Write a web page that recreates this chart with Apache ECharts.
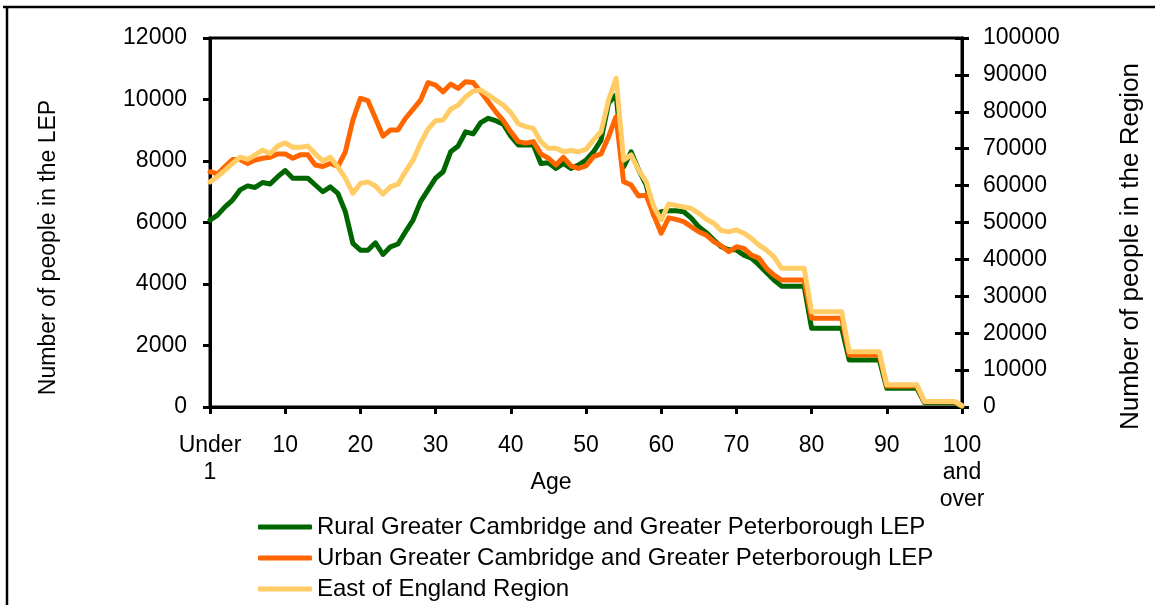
<!DOCTYPE html>
<html>
<head>
<meta charset="utf-8">
<script src="https://cdn.jsdelivr.net/npm/echarts@6/dist/echarts.min.js"></script>
<style>html,body{margin:0;padding:0;background:#fff;}#c{width:1155px;height:605px;}</style>
</head>
<body>
<div id="c"></div>
<script>
// Age categories: Under 1, 1..99, 100 and over
const ages = ['Under 1'];
for (let a = 1; a <= 99; a++) ages.push(String(a));
ages.push('100 and over');

const seriesNames = [
  'Rural Greater Cambridge and Greater Peterborough LEP',
  'Urban Greater Cambridge and Greater Peterborough LEP',
  'East of England Region'
];

// Rural LEP (left axis)
const rural = [
  6080, 6240, 6510, 6730, 7060, 7190, 7140, 7300, 7250, 7490,
  7690, 7440, 7440, 7440, 7220, 7000, 7160, 6950, 6350, 5320,
  5100, 5100, 5340, 4960, 5210, 5300, 5700, 6080, 6680, 7060,
  7440, 7650, 8300, 8490, 8950, 8880, 9250, 9390, 9310, 9200,
  8810, 8520, 8520, 8520, 7920, 7940, 7760, 7920, 7760, 7870,
  8030, 8300, 8680, 9880, 10150, 7810, 8300, 7710, 7220, 6240,
  6350, 6380, 6380, 6350, 6140, 5860, 5670, 5430, 5210, 5110,
  5110, 4940, 4840, 4620, 4370, 4130, 3930, 3930, 3930, 3930,
  2560, 2560, 2560, 2560, 2560, 1530, 1530, 1530, 1530, 1530,
  610, 610, 610, 610, 610, 140, 140, 140, 140, 140,
  20
];

// Urban LEP (left axis)
const urban = [
  7650, 7580, 7820, 8050, 8050, 7920, 8030, 8090, 8120, 8230,
  8230, 8090, 8200, 8200, 7870, 7820, 7920, 7820, 8300, 9330,
  10040, 9960, 9390, 8810, 9010, 9010, 9390, 9680, 9980, 10550,
  10470, 10250, 10500, 10360, 10580, 10550, 10250, 9930, 9600, 9310,
  8950, 8630, 8580, 8630, 8230, 8090, 7870, 8120, 7840, 7760,
  7840, 8140, 8230, 8790, 9440, 7330, 7220, 6860, 6890, 6240,
  5650, 6150, 6100, 6030, 5860, 5700, 5590, 5380, 5240, 5050,
  5210, 5160, 4940, 4840, 4510, 4290, 4130, 4130, 4130, 4130,
  2890, 2890, 2890, 2890, 2890, 1690, 1690, 1690, 1690, 1690,
  680, 680, 680, 680, 680, 170, 170, 170, 170, 170,
  30
];

// East of England Region (right axis)
const region = [
  61000, 62400, 64200, 66000, 67700, 67100, 68300, 69600, 68700, 70700,
  71600, 70400, 70400, 70700, 68600, 66700, 67700, 65100, 62000, 57900,
  60600, 61000, 59900, 57700, 59700, 60400, 63800, 66900, 71500, 75300,
  77600, 77800, 80700, 81800, 84100, 85600, 85900, 84600, 83200, 81800,
  79800, 76700, 76000, 75500, 71900, 70100, 70100, 69200, 69500, 69200,
  69800, 72400, 74600, 83200, 89100, 66900, 68300, 64200, 61100, 54300,
  50700, 55000, 54600, 54200, 53800, 52500, 50900, 49800, 47800, 47500,
  48000, 47100, 45700, 43900, 42500, 40700, 37600, 37600, 37600, 37600,
  25800, 25800, 25800, 25800, 25800, 15000, 15000, 15000, 15000, 15000,
  6000, 6000, 6000, 6000, 6000, 1500, 1500, 1500, 1500, 1500,
  400
];

const leftTicks = { min: 0, max: 12000, interval: 2000 };
const rightTicks = { min: 0, max: 100000, interval: 10000 };

const FONT = 'Liberation Sans, Arial, sans-serif';
const colors = ['#006600', '#FF6600', '#FFCC66'];

const chart = echarts.init(document.getElementById('c'), null, { renderer: 'canvas' });
const axisLineStyle = { color: '#000', width: 3 };
const plain = v => String(v);

chart.setOption({
  animation: false,
  backgroundColor: '#fff',
  color: colors,
  textStyle: { fontFamily: FONT },
  grid: {
    left: 210, right: 193, top: 38, bottom: 198,
    containLabel: false, outerBoundsMode: 'none',
    show: true, borderColor: '#000', borderWidth: 3, backgroundColor: 'transparent'
  },
  legend: {
    orient: 'vertical',
    left: 258, top: 515, height: 90,
    padding: 0,
    itemWidth: 54, itemHeight: 5, itemGap: 7,
    icon: 'roundRect',
    textStyle: { fontSize: 24, color: '#000', fontFamily: FONT },
    data: seriesNames
  },
  xAxis: {
    type: 'category',
    data: ages,
    boundaryGap: false,
    name: 'Age',
    nameLocation: 'middle',
    nameGap: 64,
    nameMoveOverlap: false,
    nameTextStyle: { fontSize: 23, color: '#000', fontFamily: FONT, padding: [0, 70, 0, 0] },
    axisLine: { lineStyle: axisLineStyle },
    axisTick: { show: true, interval: 9, length: 7, lineStyle: { color: '#000', width: 3 } },
    axisLabel: {
      interval: 9, margin: 25, fontSize: 23, color: '#000', fontFamily: FONT,
      lineHeight: 27, showMaxLabel: true, showMinLabel: true,
      formatter: v => v.replace(/ /g, '\n')
    },
    splitLine: { show: false }
  },
  yAxis: [
    {
      type: 'value', position: 'left',
      min: leftTicks.min, max: leftTicks.max, interval: leftTicks.interval,
      name: 'Number of people in the LEP',
      nameLocation: 'middle', nameRotate: 90, nameGap: 150,
      nameMoveOverlap: false,
      nameTextStyle: { fontSize: 23, color: '#000', fontFamily: FONT, padding: [0, 50, 0, 0] },
      axisLine: { show: true, lineStyle: axisLineStyle },
      axisTick: { show: true, length: 7, lineStyle: { color: '#000', width: 3 } },
      axisLabel: { margin: 23, fontSize: 23, color: '#000', fontFamily: FONT, formatter: plain },
      splitLine: { show: false }
    },
    {
      type: 'value', position: 'right',
      min: rightTicks.min, max: rightTicks.max, interval: rightTicks.interval,
      name: 'Number of people in the Region',
      nameLocation: 'middle', nameRotate: 90, nameGap: 156,
      nameMoveOverlap: false,
      nameTextStyle: { fontSize: 26, color: '#000', fontFamily: FONT, padding: [0, 48, 0, 0] },
      axisLine: { show: true, lineStyle: axisLineStyle },
      axisTick: { show: true, length: 7, lineStyle: { color: '#000', width: 3 } },
      axisLabel: { margin: 21, fontSize: 23, color: '#000', fontFamily: FONT, formatter: plain },
      splitLine: { show: false }
    },
    {
      type: 'value', position: 'right',
      min: rightTicks.min, max: rightTicks.max, interval: rightTicks.interval,
      axisLine: { show: false },
      axisTick: { show: true, inside: true, length: 7, lineStyle: { color: '#000', width: 3 } },
      axisLabel: { show: false },
      splitLine: { show: false }
    }
  ],
  series: [
    {
      name: seriesNames[0], type: 'line', yAxisIndex: 0, data: rural,
      showSymbol: false, symbol: 'none',
      lineStyle: { width: 5, color: colors[0], join: 'round', cap: 'round' }
    },
    {
      name: seriesNames[1], type: 'line', yAxisIndex: 0, data: urban,
      showSymbol: false, symbol: 'none',
      lineStyle: { width: 5, color: colors[1], join: 'round', cap: 'round' }
    },
    {
      name: seriesNames[2], type: 'line', yAxisIndex: 1, data: region,
      showSymbol: false, symbol: 'none',
      lineStyle: { width: 5, color: colors[2], join: 'round', cap: 'round' }
    }
  ],
  graphic: [
    { type: 'line', shape: { x1: 3, y1: 7, x2: 1155, y2: 7 }, style: { stroke: '#000', lineWidth: 2.5 }, silent: true },
    { type: 'line', shape: { x1: 7, y1: 7, x2: 7, y2: 605 }, style: { stroke: '#000', lineWidth: 2.5 }, silent: true }
  ]
});
</script>
</body>
</html>
